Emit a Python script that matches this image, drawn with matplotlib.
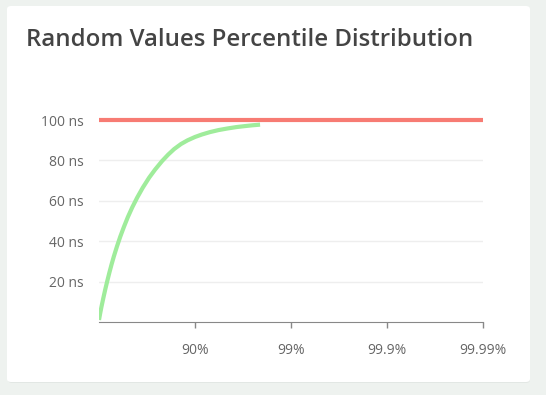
import matplotlib.pyplot as plt
from matplotlib.patches import FancyBboxPatch
import numpy as np

# percentile distribution
pct = [0, 3, 6, 10, 14, 18, 22, 26, 30, 35, 40, 45, 50, 55, 60, 65, 70, 74, 78, 81,
       83.5, 86, 88, 90, 91.5, 93, 94.3, 95.4, 96.3, 97, 97.5, 97.9]
val = [1, 4.5, 7.8, 12, 16.2, 20.3, 24.4, 28.5, 32.5, 37.4, 42.3, 47.1, 52, 56.8, 61.6,
       66.5, 71.5, 75.5, 79.7, 82.9, 85.6, 88.1, 89.9, 91.6, 92.8, 94, 95, 95.8, 96.5, 97, 97.4, 97.7]
max_val = 100
ytick_vals = [20, 40, 60, 80, 100]
xtick_pos = [1, 2, 3, 4]
xtick_labels = ['90%', '99%', '99.9%', '99.99%']
title = 'Random Values Percentile Distribution'

W, H = 546, 395
fig = plt.figure(figsize=(W / 100, H / 100), dpi=100)
fig.patch.set_facecolor('#eef2ef')
plt.rcParams['font.family'] = ['Open Sans', 'DejaVu Sans']

# card with a soft shadow
shadow = FancyBboxPatch((8 / W, (H - 383) / H), 522 / W, 376 / H,
                        boxstyle='round,pad=0,rounding_size=0.008',
                        transform=fig.transFigure, fc='#e2e7e4', ec='none', zorder=0)
card = FancyBboxPatch((7 / W, (H - 382) / H), 523 / W, 376 / H,
                      boxstyle='round,pad=0,rounding_size=0.008',
                      transform=fig.transFigure, fc='white', ec='none', zorder=1)
fig.patches.extend([shadow, card])

fig.text(26 / W, (H - 46) / H, title, fontsize=17.3, fontweight='semibold',
         color='#444444', ha='left', va='baseline')

ax = fig.add_axes([99 / W, (H - 322) / H, 384 / W, 202 / H])
ax.set_facecolor('none')
ax.set_zorder(2)

x = -np.log10(1 - np.array(pct) / 100.0)
ax.plot(x, val, color='#9fec9b', lw=3, solid_capstyle='butt', solid_joinstyle='round', zorder=3)
ax.plot([0, 4], [max_val, max_val], color='#f77b73', lw=3, solid_capstyle='butt', clip_on=False, zorder=4)

ax.set_xlim(0, 4)
ax.set_ylim(0, 100)
ax.set_xticks(xtick_pos)
ax.set_xticklabels(xtick_labels)
ax.set_yticks(ytick_vals)
ax.set_yticklabels([f'{v} ns' for v in ytick_vals])
ax.grid(axis='y', color='#eeeeee', lw=1)
ax.set_axisbelow(True)
for s in ['top', 'right', 'left']:
    ax.spines[s].set_visible(False)
ax.spines['bottom'].set_color('#888888')
ax.tick_params(axis='x', colors='#888888', length=4, width=1, labelcolor='#666666',
               labelsize=10, pad=11)
ax.tick_params(axis='y', length=0, labelcolor='#666666', labelsize=10, pad=10.8)

fig.savefig('out.png', dpi=100, facecolor=fig.get_facecolor())
